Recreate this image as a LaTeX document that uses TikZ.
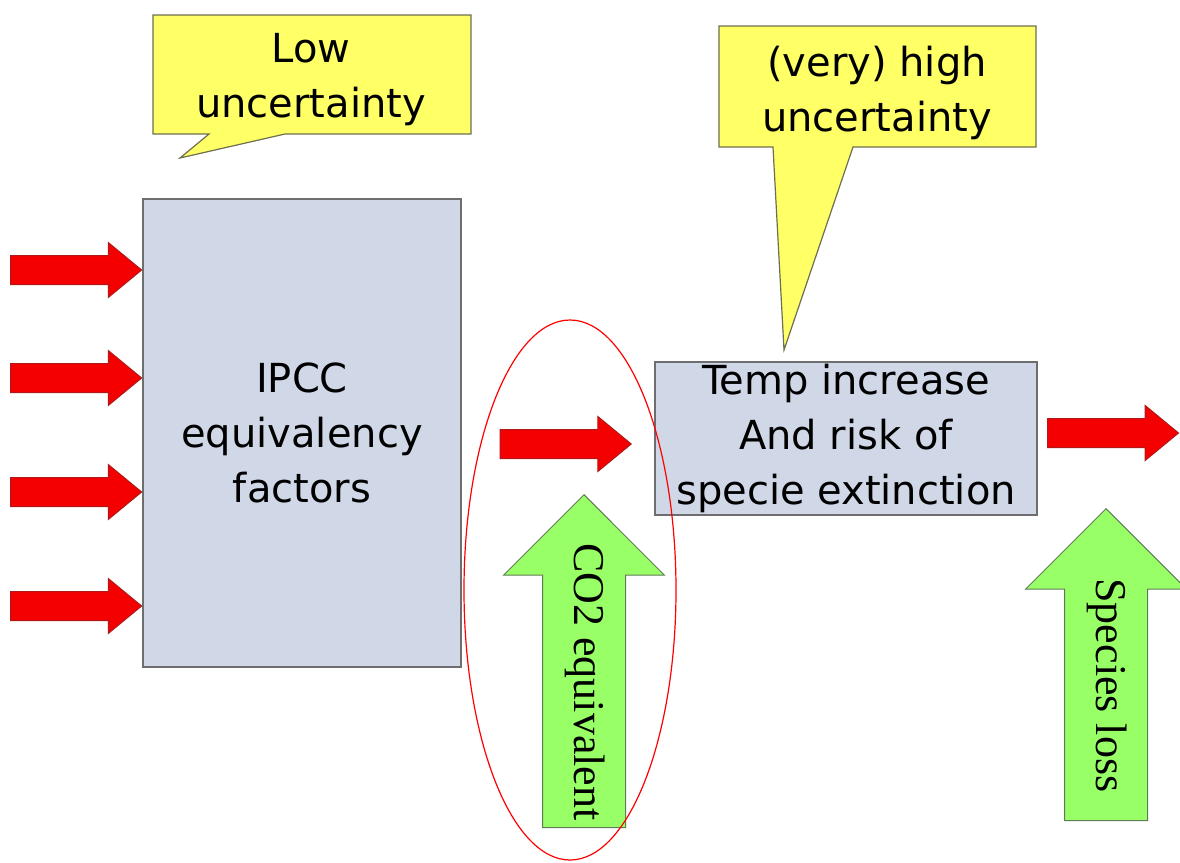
\documentclass[tikz,border=0pt]{standalone}
\usepackage{fontspec}
\setmainfont{DejaVu Sans}
\newfontfamily\arrowfont{Liberation Serif}
\usetikzlibrary{shapes.geometric, shapes.arrows, arrows.meta}

\definecolor{boxblue}{RGB}{208,216,232}
\definecolor{boxline}{RGB}{110,110,110}
\definecolor{noteyellow}{RGB}{255,255,102}
\definecolor{noteline}{RGB}{110,110,80}
\definecolor{flowred}{RGB}{245,0,0}
\definecolor{flowline}{RGB}{175,25,25}
\definecolor{inputgreen}{RGB}{153,255,102}
\definecolor{inputline}{RGB}{95,125,85}

\tikzset{
  bigtext/.style={font=\fontsize{40}{55}\selectfont, align=center, inner sep=0pt},
  factorbox/.style={draw=boxline, fill=boxblue, line width=1.2pt, rectangle, bigtext},
  note/.style={draw=noteline, fill=noteyellow, line width=1.2pt, line join=miter},
  flow/.style={single arrow, draw=flowline, fill=flowred, line width=1pt, inner xsep=0pt, inner ysep=14pt,
    text height=0pt, text depth=0pt,
    minimum width=54pt, minimum height=131pt, single arrow head extend=13pt, single arrow tip angle=79},
  input/.style={single arrow, draw=inputline, fill=inputgreen, line width=1pt, inner xsep=0pt, inner ysep=21pt,
    text height=30pt, text depth=10pt,
    rotate=-90, shape border rotate=180, minimum width=160pt, single arrow head extend=39pt,
    single arrow tip angle=90, font=\arrowfont\fontsize{44}{44}\selectfont}
}

\begin{document}
\begin{tikzpicture}[x=1pt, y=-1pt]
        \useasboundingbox (0,0) rectangle (1180,862);

        % Callouts
        \draw[note] (153,15) -- (471,15) -- (471,134) -- (285,134) -- (180,158) -- (209,134) -- (153,134) -- cycle;
        \node[bigtext] (lowunc) at (311,80) {Low\\uncertainty};
        \draw[note] (719,26) -- (1036,26) -- (1036,147) -- (853,147) -- (784,350) -- (773,147) -- (719,147) -- cycle;
        \node[bigtext] (highunc) at (877,93) {(very) high\\uncertainty};

        % Nodes
        \node[factorbox, minimum width=318pt, minimum height=468pt] (ipcc) at (302,433) {IPCC\\equivalency\\factors};
        \node[factorbox, minimum width=382pt, minimum height=153pt] (temp) at (846,438.5) {Temp increase\\And risk of\\specie extinction};

        % Arrows
        \node[flow, anchor=tip] (in1) at (ipcc.west |- 0,270) {};
        \node[flow, anchor=tip] (in2) at (ipcc.west |- 0,378) {};
        \node[flow, anchor=tip] (in3) at (ipcc.west |- 0,492) {};
        \node[flow, anchor=tip] (in4) at (ipcc.west |- 0,606) {};
        \node[flow, anchor=tip] (co2flow) at (632,444) {};
        \node[flow, anchor=tail] (outflow) at (1047,433) {};

        \node[input, anchor=tip, minimum height=333pt] (co2) at (584,494) {CO2 equivalent};
        \node[input, anchor=tip, minimum height=312pt] (species) at (1106,508) {Species loss};

        % Highlight
        \node[ellipse, draw=red, line width=1.2pt, minimum width=212pt, minimum height=540pt] (focus) at (570,590) {};
    \end{tikzpicture}
\end{document}
